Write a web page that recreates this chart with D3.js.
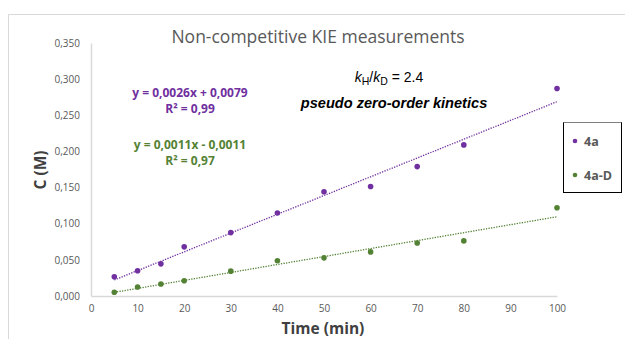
<!DOCTYPE html>
<html><head><meta charset="utf-8">
<script src="https://cdn.jsdelivr.net/npm/d3@7"></script>
<style>body{margin:0;background:#fff}svg{display:block}</style>
</head><body><svg id="c" width="625" height="339"></svg>
<script>
const times = [5,10,15,20,30,40,50,60,70,80,100];
const conc4a = [0.0266,0.0349,0.0445,0.068,0.0877,0.1148,0.1442,0.1515,0.179,0.209,0.287];
const conc4aD = [0.0051,0.0124,0.0165,0.021,0.0344,0.0487,0.0528,0.061,0.0734,0.0762,0.122];
const xTicks = [0,10,20,30,40,50,60,70,80,90,100];
const yTicks = [0,0.05,0.1,0.15,0.2,0.25,0.3,0.35];
const seriesNames = ["4a","4a-D"];
const colors = ["#7030A0","#548235"];

const svg = d3.select("#c");
const x = d3.scaleLinear().domain([0,100]).range([91,557]);
const y = d3.scaleLinear().domain([0,0.35]).range([296,43]);
const fmt = v => d3.format(".3f")(v).replace(".", ",");
const tickFont = "'Open Sans', sans-serif";

// outer frame
svg.append("path").attr("d","M8.5,339 V14.5 H625").attr("fill","none").attr("stroke","#d9d9d9").attr("stroke-width",1);

// axes
const xa = svg.append("g").attr("transform","translate(0,296)").call(d3.axisBottom(x).tickValues(xTicks).tickSize(0).tickPadding(9));
const ya = svg.append("g").attr("transform","translate(91,0)").call(d3.axisLeft(y).tickValues(yTicks).tickFormat(fmt).tickSize(0).tickPadding(11));
[xa,ya].forEach(a=>{
  a.select(".domain").attr("stroke","#d9d9d9").attr("stroke-width",1.5);
  a.selectAll("text").attr("fill","#595959").style("font-family",tickFont).style("font-size","10px");
});

// series
const series = [conc4a, conc4aD];
series.forEach((vals,i)=>{
  const pts = times.map((t,j)=>[t,vals[j]]);
  const mx = d3.mean(pts,d=>d[0]), my = d3.mean(pts,d=>d[1]);
  const b = d3.sum(pts,d=>(d[0]-mx)*(d[1]-my))/d3.sum(pts,d=>(d[0]-mx)**2);
  const a0 = my - b*mx;
  const xs = d3.extent(times);
  svg.append("line")
    .attr("x1",x(xs[0])).attr("y1",y(a0+b*xs[0]))
    .attr("x2",x(xs[1])).attr("y2",y(a0+b*xs[1]))
    .attr("stroke",colors[i]).attr("stroke-width",1.3).attr("stroke-dasharray","1.3,1.3");
  svg.append("g").selectAll("circle").data(pts).join("circle")
    .attr("cx",d=>x(d[0])).attr("cy",d=>y(d[1])).attr("r",2.8).attr("fill",colors[i]);
});

// title
svg.append("text").attr("x",318).attr("y",43).attr("text-anchor","middle")
  .attr("fill","#595959").style("font-family",tickFont).style("font-size","17.5px").text("Non-competitive KIE measurements");

// equations
[["y = 0,0026x + 0,0079",97,colors[0]],["R² = 0,99",113,colors[0]],["y = 0,0011x - 0,0011",149,colors[1]],["R² = 0,97",165,colors[1]]]
.forEach(([t,yy,c])=>{
  svg.append("text").attr("x",190).attr("y",yy).attr("text-anchor","middle").attr("fill",c)
    .style("font-family",tickFont).style("font-size","12px").style("font-weight","bold").text(t);
});

// kH/kD
const k = svg.append("text").attr("x",389).attr("y",82).attr("text-anchor","middle")
  .style("font-family","'Liberation Sans', Arial, sans-serif").style("font-size","14px").attr("fill","#000");
k.append("tspan").style("font-style","italic").text("k");
k.append("tspan").attr("dy",3).style("font-size","10.5px").text("H");
k.append("tspan").attr("dy",-3).text("/");
k.append("tspan").style("font-style","italic").text("k");
k.append("tspan").attr("dy",3).style("font-size","10.5px").text("D");
k.append("tspan").attr("dy",-3).text(" = 2.4");
svg.append("text").attr("x",394).attr("y",108).attr("text-anchor","middle")
  .style("font-family","'Liberation Sans', Arial, sans-serif").style("font-size","14.6px")
  .style("font-weight","bold").style("font-style","italic").attr("fill","#000").text("pseudo zero-order kinetics");

// axis titles
svg.append("text").attr("transform","translate(46,170) rotate(-90)").attr("text-anchor","middle")
  .attr("fill","#404040").style("font-family",tickFont).style("font-size","15.5px").style("font-weight","bold").text("C (M)");
svg.append("text").attr("x",323).attr("y",334).attr("text-anchor","middle")
  .attr("fill","#404040").style("font-family",tickFont).style("font-size","15.5px").style("font-weight","bold").text("Time (min)");

// legend
svg.append("rect").attr("x",563.5).attr("y",122.5).attr("width",58).attr("height",70)
  .attr("fill","#fff").attr("stroke","#000").attr("stroke-width",1);
svg.append("line").attr("x1",563.5).attr("x2",621.5).attr("y1",122.5).attr("y2",122.5).attr("stroke","#7f7f7f").attr("stroke-width",1.2);
seriesNames.forEach((nm,i)=>{
  const yy = 141 + i*34;
  svg.append("circle").attr("cx",575).attr("cy",yy).attr("r",2.3).attr("fill",colors[i]);
  svg.append("text").attr("x",584).attr("y",yy+4.5).attr("fill","#595959")
    .style("font-family",tickFont).style("font-size","12.5px").style("font-weight","bold").text(nm);
});
</script></body></html>
